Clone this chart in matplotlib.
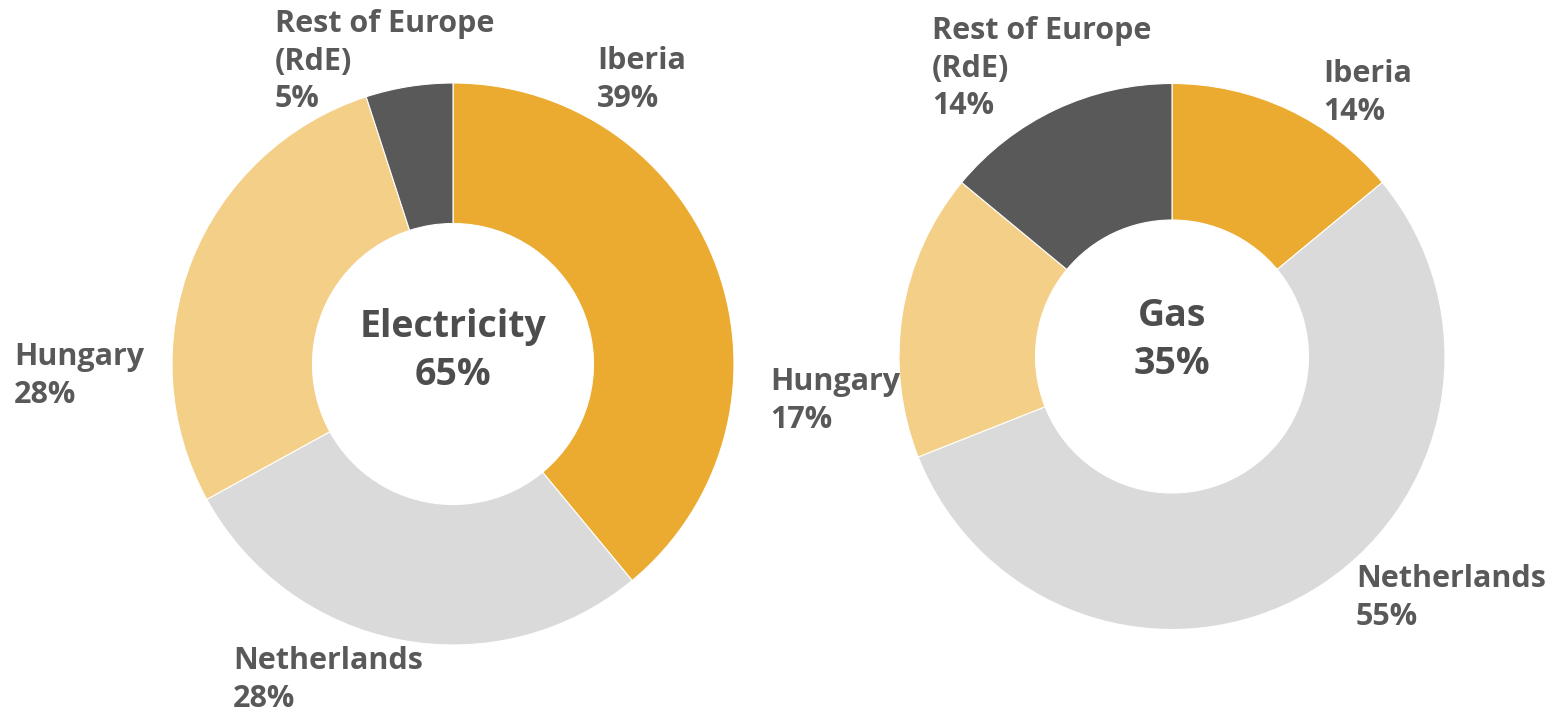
import matplotlib as mpl
mpl.use('Agg')
import matplotlib.pyplot as plt

W, H = 1555, 714

regions = ['Iberia', 'Netherlands', 'Hungary', 'Rest of Europe\n(RdE)']
colors = ['#EAAB30', '#DADADA', '#F4CF87', '#595959']

elec_share = [39, 28, 28, 5]
gas_share = [14, 55, 17, 14]
totals = {'Electricity': 65, 'Gas': 35}

txt = '#595959'
plt.rcParams['font.family'] = ['Open Sans', 'DejaVu Sans']


def px_axes(fig, cx, cy, r):
    # square axes around a donut centre given in pixels (y from top)
    return fig.add_axes([(cx - r) / W, (H - cy - r) / H, 2 * r / W, 2 * r / H])


def donut(ax, values, title, total, label_pos, dy):
    ax.pie(values, colors=colors, startangle=90, counterclock=False,
           wedgeprops=dict(width=0.5, edgecolor='white', linewidth=0.8))
    ax.set_xlim(-1, 1)
    ax.set_ylim(-1, 1)
    ax.axis('off')
    ax.text(0, dy, title + '\n' + str(total) + '%', ha='center', va='center',
            fontsize=27, fontweight='bold', color='#4d4d4d', linespacing=1.35)
    for name, v, (x, y) in zip(regions, values, label_pos):
        fig.text(x / W, 1 - y / H, name + '\n' + str(v) + '%', ha='left', va='top',
                 fontsize=22, fontweight='bold', color=txt, linespacing=1.33)


fig = plt.figure(figsize=(W / 100, H / 100), dpi=100)

ax1 = px_axes(fig, 453, 364, 281)
donut(ax1, elec_share, 'Electricity', totals['Electricity'],
      [(597, 46), (233, 646), (14, 342), (275, 9)], 0.045)

ax2 = px_axes(fig, 1172, 356.5, 273)
donut(ax2, gas_share, 'Gas', totals['Gas'],
      [(1323, 59), (1356, 564), (770, 367), (932, 16)], 0.06)

fig.savefig('out.png', dpi=100)
